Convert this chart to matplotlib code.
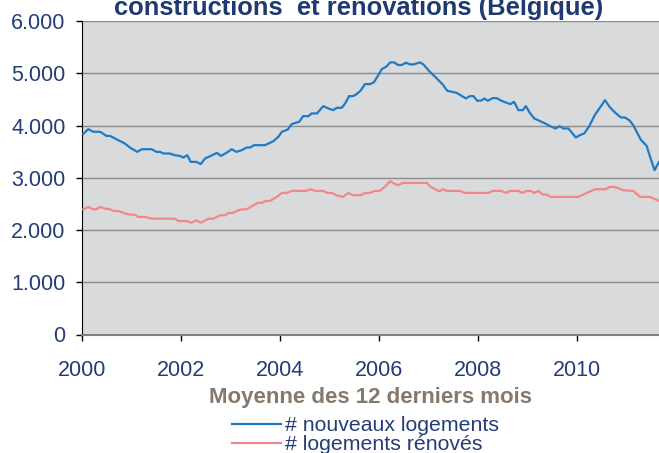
import matplotlib
matplotlib.use("Agg")
import matplotlib.pyplot as plt
from matplotlib.ticker import FuncFormatter

# decimal years
years_new = [2000.02, 2000.12, 2000.22, 2000.36, 2000.49, 2000.56, 2000.86, 2000.96,
             2001.11, 2001.20, 2001.40, 2001.50, 2001.57, 2001.64, 2001.77, 2001.87,
             2001.97, 2002.04, 2002.12, 2002.19, 2002.31, 2002.39, 2002.48, 2002.58,
             2002.72, 2002.80, 2002.92, 2003.02, 2003.11, 2003.22, 2003.32, 2003.39,
             2003.47, 2003.69, 2003.86, 2003.96, 2004.03, 2004.15, 2004.23, 2004.33,
             2004.38, 2004.46, 2004.57, 2004.63, 2004.74, 2004.87, 2004.97, 2005.07,
             2005.14, 2005.24, 2005.31, 2005.39, 2005.47, 2005.54, 2005.62, 2005.71,
             2005.81, 2005.89, 2005.96, 2006.05, 2006.14, 2006.22, 2006.30, 2006.38,
             2006.45, 2006.54, 2006.62, 2006.70, 2006.82, 2006.89, 2007.02, 2007.16,
             2007.28, 2007.37, 2007.46, 2007.56, 2007.66, 2007.75, 2007.83, 2007.90,
             2007.98, 2008.07, 2008.12, 2008.19, 2008.29, 2008.37, 2008.47, 2008.57,
             2008.65, 2008.72, 2008.81, 2008.90, 2008.96, 2009.04, 2009.13, 2009.25,
             2009.35, 2009.45, 2009.56, 2009.64, 2009.72, 2009.82, 2009.97, 2010.05,
             2010.14, 2010.24, 2010.36, 2010.46, 2010.56, 2010.65, 2010.76, 2010.88,
             2010.96, 2011.05, 2011.13, 2011.20, 2011.28, 2011.40, 2011.47, 2011.56,
             2011.65]
nouveaux = [3840, 3930, 3880, 3880, 3800, 3800, 3655, 3580,
            3495, 3546, 3546, 3495, 3495, 3464, 3464, 3431,
            3418, 3387, 3431, 3303, 3303, 3259, 3368, 3412,
            3476, 3418, 3482, 3546, 3495, 3527, 3579, 3579,
            3623, 3623, 3700, 3783, 3878, 3923, 4026, 4058,
            4070, 4179, 4179, 4231, 4231, 4371, 4326, 4294,
            4338, 4338, 4422, 4562, 4562, 4601, 4665, 4792,
            4792, 4825, 4932, 5080, 5125, 5208, 5208, 5157,
            5157, 5202, 5170, 5170, 5208, 5170, 5029, 4902,
            4786, 4665, 4646, 4626, 4569, 4518, 4562, 4562,
            4473, 4480, 4518, 4473, 4524, 4524, 4473, 4435,
            4409, 4454, 4294, 4294, 4371, 4243, 4135, 4083,
            4039, 3987, 3943, 3987, 3943, 3943, 3771, 3815,
            3847, 3987, 4212, 4345, 4486, 4358, 4250, 4154,
            4154, 4102, 4006, 3878, 3732, 3610, 3399, 3144,
            3303]

years_ren = [2000.02, 2000.12, 2000.21, 2000.28, 2000.36, 2000.46, 2000.56, 2000.64,
             2000.73, 2000.83, 2000.96, 2001.06, 2001.13, 2001.27, 2001.40, 2001.87,
             2001.94, 2002.11, 2002.20, 2002.31, 2002.39, 2002.46, 2002.55, 2002.65,
             2002.78, 2002.88, 2002.95, 2003.04, 2003.12, 2003.22, 2003.32, 2003.42,
             2003.54, 2003.62, 2003.71, 2003.79, 2003.93, 2004.03, 2004.13, 2004.23,
             2004.53, 2004.61, 2004.70, 2004.87, 2004.95, 2005.04, 2005.13, 2005.27,
             2005.37, 2005.47, 2005.62, 2005.71, 2005.81, 2005.91, 2006.01, 2006.12,
             2006.22, 2006.30, 2006.38, 2006.47, 2006.96, 2007.04, 2007.13, 2007.21,
             2007.29, 2007.36, 2007.63, 2007.73, 2008.20, 2008.29, 2008.47, 2008.55,
             2008.65, 2008.81, 2008.89, 2008.98, 2009.06, 2009.13, 2009.21, 2009.30,
             2009.38, 2009.46, 2010.02, 2010.19, 2010.36, 2010.58, 2010.65, 2010.76,
             2010.93, 2011.13, 2011.27, 2011.47, 2011.65]
renoves = [2396, 2441, 2396, 2396, 2441, 2409, 2396, 2364,
           2364, 2326, 2294, 2294, 2249, 2249, 2217, 2217,
           2172, 2172, 2140, 2185, 2140, 2172, 2217, 2217,
           2281, 2281, 2326, 2326, 2364, 2396, 2396, 2454,
           2518, 2518, 2556, 2556, 2633, 2709, 2709, 2748,
           2748, 2780, 2748, 2748, 2709, 2709, 2665, 2633,
           2709, 2665, 2665, 2709, 2709, 2748, 2748, 2837,
           2933, 2889, 2856, 2901, 2901, 2824, 2780, 2741,
           2780, 2748, 2748, 2709, 2709, 2748, 2748, 2709,
           2748, 2748, 2709, 2748, 2748, 2709, 2748, 2678,
           2678, 2633, 2633, 2709, 2780, 2780, 2824, 2824,
           2761, 2748, 2633, 2633, 2556]

x_ticks = [2000, 2002, 2004, 2006, 2008, 2010]
y_ticks = [0, 1000, 2000, 3000, 4000, 5000, 6000]

NAVY = "#243D78"
W, H = 659, 453

plt.rcParams["font.family"] = ["Liberation Sans", "DejaVu Sans"]

fig = plt.figure(figsize=(W / 100, H / 100), dpi=100)
ax = fig.add_axes([82.3 / W, 1 - 334.5 / H, 1 - 82.3 / W, (334.5 - 21) / H])
ax.set_facecolor("#D9DADC")

ax.plot(years_new, nouveaux, color="#1F7BC6", lw=1.6, label="# nouveaux logements", zorder=3)
ax.plot(years_ren, renoves, color="#F2878A", lw=1.6, label="# logements rénovés", zorder=3)

ax.set_xlim(2000, 2011.65)
ax.set_ylim(0, 6000)
ax.set_xticks(x_ticks)
ax.set_yticks(y_ticks)
ax.yaxis.set_major_formatter(FuncFormatter(lambda v, _: f"{int(v):,}".replace(",", ".")))
ax.yaxis.grid(True, color="#8C8C8C", linewidth=1.0, zorder=1)
ax.set_axisbelow(True)

ax.tick_params(axis="y", direction="out", length=4, width=1, color="black",
               labelsize=15.5, labelcolor=NAVY, pad=8)
ax.tick_params(axis="x", direction="out", length=4, width=1, color="black",
               labelsize=15.5, labelcolor=NAVY, pad=14)
for s in ("top", "right"):
    ax.spines[s].set_visible(False)
ax.spines["left"].set_color("black")
ax.spines["bottom"].set_color("#7F7F7F")
ax.spines["bottom"].set_linewidth(1.5)

fig.text(359 / W, 1 - 15.5 / H, "constructions  et rénovations (Belgique)",
         ha="center", va="baseline", fontsize=18.4, fontweight="bold", color="#1F3A70")

ax.set_xlabel("Moyenne des 12 derniers mois", fontsize=16, fontweight="bold",
              color="#86786A", labelpad=5)

ax.legend(loc="upper left", bbox_to_anchor=(232 / W, 1 - 416 / H),
          bbox_transform=fig.transFigure, frameon=False, fontsize=15.3,
          labelcolor=NAVY, handlelength=2.3, handletextpad=0.2,
          labelspacing=0.0, borderpad=0, borderaxespad=0)

fig.savefig("out.png", dpi=100)
